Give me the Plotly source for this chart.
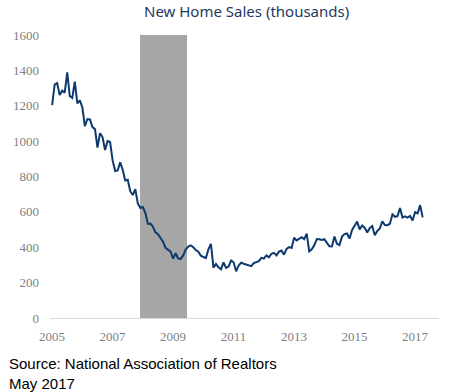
import plotly.graph_objects as go

# Monthly new home sales, thousands (SAAR), Jan 2005 - Apr 2017
start_year = 2005
sales = [
    # 2005
    1203, 1319, 1328, 1260, 1286, 1274, 1389, 1255, 1244, 1336, 1214, 1231,
    # 2006
    1190, 1084, 1125, 1123, 1079, 1068, 963, 1045, 1023, 950, 1000, 995,
    # 2007
    891, 831, 834, 880, 838, 778, 782, 717, 695, 729, 648, 622,
    # 2008
    627, 593, 532, 534, 516, 484, 474, 453, 431, 397, 388, 375,
    # 2009
    336, 366, 336, 334, 354, 387, 404, 411, 400, 384, 375, 352,
    # 2010
    345, 339, 388, 419, 285, 305, 286, 275, 314, 283, 291, 325,
    # 2011
    315, 264, 297, 313, 307, 302, 296, 293, 310, 317, 321, 340,
    # 2012
    336, 354, 343, 363, 368, 354, 375, 381, 358, 391, 401, 396,
    # 2013
    454, 439, 449, 457, 446, 477, 377, 388, 411, 446, 445, 441,
    # 2014
    446, 423, 405, 404, 461, 420, 412, 460, 474, 478, 449, 498,
    # 2015
    522, 545, 501, 523, 511, 483, 508, 520, 468, 492, 506, 546,
    # 2016
    526, 525, 533, 586, 572, 576, 622, 568, 575, 568, 577, 551,
    # 2017
    599, 592, 638, 569,
]
dates = [start_year + i / 12 for i in range(len(sales))]

# Recession period (Dec 2007 - Jun 2009)
recession_start = 2007 + 11 / 12
recession_end = 2009 + 5.5 / 12
recession_top = 1600

x_ticks = [2005, 2007, 2009, 2011, 2013, 2015, 2017]
y_ticks = [0, 200, 400, 600, 800, 1000, 1200, 1400, 1600]

fig = go.Figure()

fig.add_trace(go.Bar(
    x=[(recession_start + recession_end) / 2],
    y=[recession_top],
    width=[recession_end - recession_start],
    marker=dict(color="#A6A6A6", line=dict(width=0)),
    hoverinfo="skip",
    showlegend=False,
))

fig.add_trace(go.Scatter(
    x=dates, y=sales, mode="lines",
    line=dict(color="#0D3A6E", width=2),
    showlegend=False,
))

tick_font = dict(family="Liberation Serif, Times New Roman, serif", size=13, color="#7F7F7F")

fig.update_layout(
    width=450, height=392,
    margin=dict(l=50, r=11, t=35, b=74),
    paper_bgcolor="white", plot_bgcolor="white",
    title=dict(
        text="New Home Sales (thousands)",
        font=dict(family="Noto Sans, Open Sans, sans-serif", size=15, color="#1F3864"),
        x=0.548, xanchor="center", y=0.97, yanchor="middle",
    ),
    xaxis=dict(
        range=[2004.93, 2017.79],
        tickvals=x_ticks, ticktext=[str(v) for v in x_ticks],
        tickfont=tick_font, showgrid=False, zeroline=False,
        showline=True, linecolor="#D9D9D9", linewidth=1,
        ticks="", ticklabelstandoff=6,
    ),
    yaxis=dict(
        range=[0, 1600],
        tickvals=y_ticks, ticktext=[str(v) for v in y_ticks],
        tickfont=tick_font, showgrid=False, zeroline=False,
        showline=False, ticks="", ticklabelstandoff=10,
    ),
    bargap=0,
    annotations=[
        dict(
            text="Source: National Association of Realtors<br>May 2017",
            xref="paper", yref="paper", x=-43 / 389, y=-0.123,
            xanchor="left", yanchor="top", align="left", showarrow=False,
            font=dict(family="Liberation Sans, Arial, sans-serif", size=15, color="#000000"),
        )
    ],
)

fig.write_html(
    "out.html",
    config={"displayModeBar": False},
    post_script="document.body.style.margin='0px';document.body.style.overflow='hidden';",
)
